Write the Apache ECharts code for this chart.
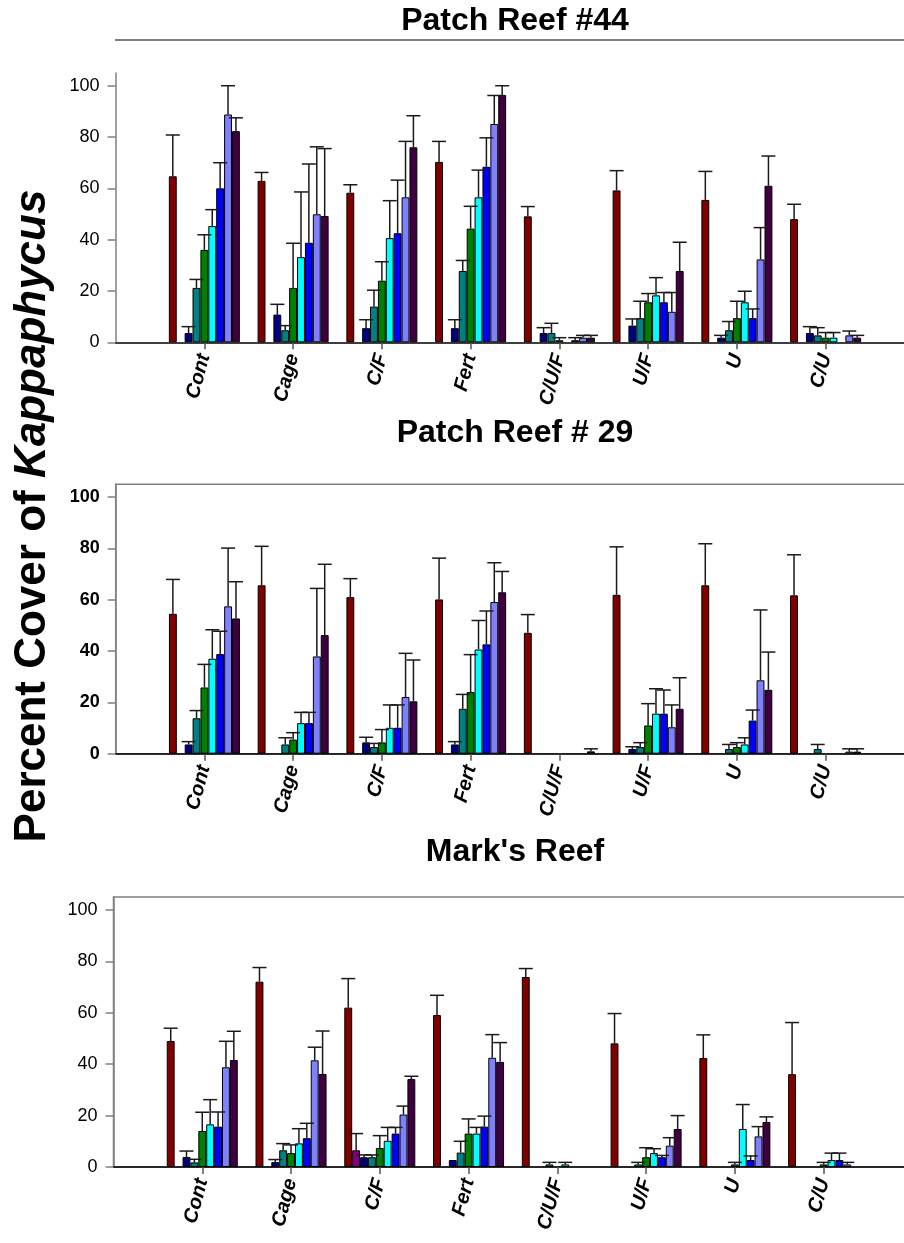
<!DOCTYPE html>
<html><head><meta charset="utf-8">
<script src="https://cdn.jsdelivr.net/npm/echarts@6/dist/echarts.min.js"></script>
<style>html,body{margin:0;padding:0;background:#fff}#c{width:904px;height:1243px}</style>
</head><body><div id="c"></div>
<script>
// ---------- data ----------
const categories = ['Cont', 'Cage', 'C/F', 'Fert', 'C/U/F', 'U/F', 'U', 'C/U'];
const seriesNames = ['S1', 'S2', 'S3', 'S4', 'S5', 'S6', 'S7', 'S8', 'S9'];
const seriesColors = ['#800000', '#800080', '#000080', '#008080', '#008000', '#00FFFF', '#0000FF', '#8080FF', '#400040'];
const panelTitles = ['Patch Reef #44', 'Patch Reef # 29', "Mark's Reef"];
const yTicks = [0, 20, 40, 60, 80, 100];

// Patch Reef #44 : mean per series (rows) x category (cols)
const reef44Mean = [
  [64.7, 62.9, 58.3, 70.3, 49.1, 59.2, 55.5, 48.0],
  [null, null, null, null, null, null, null, null],
  [3.6, 10.8, 5.5, 5.5, 3.6, 6.5, 1.8, 3.6],
  [21.2, 4.7, 13.9, 27.8, 3.6, 9.4, 4.7, 2.7],
  [36.0, 21.2, 24.0, 44.3, 0.8, 15.6, 9.4, 1.8],
  [45.3, 33.2, 40.6, 56.5, null, 18.3, 15.6, 1.8],
  [60.0, 38.8, 42.5, 68.4, 0.8, 15.6, 9.4, null],
  [88.8, 49.9, 56.5, 85.1, 1.8, 11.9, 32.3, 2.7],
  [82.3, 49.2, 76.0, 96.4, 1.8, 27.8, 61.0, 1.8]
];
// upper end of error bar
const reef44Upper = [
  [80.8, 66.2, 61.4, 78.3, 52.9, 66.9, 66.6, 53.8],
  [null, null, null, null, null, null, null, null],
  [6.1, 14.8, 8.8, 8.8, 5.7, 9.1, 2.7, 6.1],
  [24.5, 6.5, 20.3, 31.9, 7.4, 16.0, 8.1, 5.7],
  [41.9, 38.6, 31.4, 53.0, 1.8, 19.0, 16.0, 3.8],
  [51.7, 58.6, 55.2, 67.1, null, 25.2, 19.9, 3.8],
  [70.0, 69.5, 63.2, 79.7, 1.8, 19.4, 13.0, null],
  [100, 76.2, 78.3, 96.2, 2.7, 19.4, 44.7, 4.4],
  [87.5, 75.5, 88.3, 100, 2.7, 39.0, 72.6, 2.7]
];

// Patch Reef # 29
const reef29Mean = [
  [54.5, 65.6, 61.0, 60.1, 47.1, 61.9, 65.6, 61.7],
  [null, null, null, null, null, null, null, null],
  [3.6, null, 4.4, 3.6, null, 1.8, null, null],
  [13.8, 3.6, 2.6, 17.5, null, 2.6, 1.8, 1.8],
  [25.8, 5.5, 4.4, 24.0, null, 11.0, 2.6, null],
  [37.0, 11.9, 10.1, 40.6, null, 15.6, 3.6, null],
  [38.8, 11.9, 10.1, 42.6, null, 15.6, 12.9, null],
  [57.4, 37.9, 22.1, 59.1, null, 10.3, 28.6, 0.8],
  [52.7, 46.2, 20.4, 62.9, 0.9, 17.5, 24.9, 0.8]
];
const reef29Upper = [
  [67.9, 80.8, 68.2, 76.2, 54.2, 80.6, 81.8, 77.5],
  [null, null, null, null, null, null, null, null],
  [4.7, null, 6.4, 4.7, null, 2.7, null, null],
  [16.8, 6.2, 4.0, 23.1, null, 4.3, 3.6, 3.6],
  [34.8, 8.2, 9.4, 38.6, null, 19.5, 4.3, null],
  [48.3, 16.1, 19.0, 51.9, null, 25.3, 6.2, null],
  [47.7, 16.1, 19.0, 55.6, null, 24.8, 17.0, null],
  [80.1, 64.4, 39.1, 74.4, null, 19.0, 56.0, 1.9],
  [67.0, 73.8, 36.5, 71.0, 1.9, 29.6, 39.6, 1.9]
];

// Mark's Reef
const markMean = [
  [49.0, 72.1, 62.0, 59.1, 73.9, 48.1, 42.4, 36.1],
  [null, null, 6.5, null, null, null, null, null],
  [3.9, 1.9, 3.8, 2.7, null, null, null, null],
  [1.8, 6.5, 3.8, 5.6, 1.0, 1.0, null, null],
  [14.0, 5.4, 7.4, 13.0, null, 3.8, 1.0, 1.0],
  [16.6, 9.2, 10.2, 13.0, 1.0, 5.4, 14.8, 2.7],
  [15.7, 11.2, 13.0, 15.7, null, 3.8, 2.7, 2.7],
  [38.8, 41.5, 20.4, 42.5, null, 8.3, 11.9, 1.0],
  [41.6, 36.2, 34.2, 40.9, null, 14.8, 17.5, null]
];
const markUpper = [
  [54.0, 77.6, 73.3, 66.8, 77.2, 59.7, 51.4, 56.2],
  [null, null, 13.0, null, null, null, null, null],
  [6.2, 2.9, 4.7, null, null, null, null, null],
  [3.0, 9.1, 4.7, 10.0, 1.8, 1.8, null, null],
  [21.3, 8.6, 12.2, 18.7, null, 7.5, 1.8, 1.8],
  [26.2, 14.9, 15.4, 15.4, 1.8, 7.1, 24.3, 5.4],
  [21.4, 17.0, 15.4, 19.8, null, 4.5, 4.3, 5.4],
  [48.9, 46.6, 23.7, 51.5, null, 11.4, 15.7, 1.8],
  [52.8, 52.9, 35.3, 48.4, null, 20.0, 19.5, null]
];

// ---------- chart ----------
const panelMeans = [reef44Mean, reef29Mean, markMean];
const panelUppers = [reef44Upper, reef29Upper, markUpper];
const gridDefs = [
  { left: 115.6, top: 72.9, height: 269.4, right: -10.4 },
  { left: 115.7, top: 484.2, height: 269.5, right: -10.3 },
  { left: 113.5, top: 897.1, height: 269.9, right: -8.4 }
];
const FONT = 'Liberation Sans, Arial, sans-serif';
const axisCats = [''].concat(categories, ['']);

const grids = [], xAxes = [], yAxes = [], series = [];
gridDefs.forEach((g, p) => {
  grids.push(Object.assign({
    show: p > 0, borderColor: '#808080', borderWidth: 1.5,
    containLabel: false, outerBoundsMode: 'none'
  }, g));
  xAxes.push({
    type: 'category', gridIndex: p, data: axisCats, boundaryGap: false,
    axisLine: { show: true, lineStyle: { color: '#000', width: 1.5 } },
    axisTick: { show: true, length: 7, interval: (i, v) => v !== '', lineStyle: { color: '#555', width: 1.5 } },
    axisLabel: { interval: 0, rotate: 75, fontSize: 20, fontWeight: 'bold', fontStyle: 'italic',
      color: '#000', margin: 12, fontFamily: FONT },
    splitLine: { show: false }
  });
  yAxes.push({
    type: 'value', gridIndex: p, min: 0, max: 105, interval: 20,
    axisLine: { show: true, lineStyle: { color: '#808080', width: 1.5 } },
    axisTick: { show: true, length: 8, customValues: yTicks, lineStyle: { color: '#808080', width: 1.5 } },
    axisLabel: { customValues: yTicks, fontSize: 18, fontWeight: p === 1 ? 'bold' : 'normal',
      color: '#000', margin: 16, fontFamily: FONT },
    splitLine: { show: false }
  });
  const means = panelMeans[p], uppers = panelUppers[p];
  seriesNames.forEach((name, s) => {
    series.push({
      name: name, type: 'bar', xAxisIndex: p, yAxisIndex: p,
      data: [null].concat(means[s], [null]),
      barGap: 0, barCategoryGap: '20%',
      itemStyle: { color: seriesColors[s], borderColor: '#000', borderWidth: 1 },
      silent: true, z: 2
    });
  });
  seriesNames.forEach((name, s) => {
    const data = [];
    means[s].forEach((m, i) => {
      const u = uppers[s][i];
      if (m != null && u != null && u > m) data.push([i + 1, u, m]);
    });
    series.push({
      type: 'custom', xAxisIndex: p, yAxisIndex: p, data: data, z: 5, silent: true,
      renderItem: (params, api) => {
        const ci = api.value(0);
        const base = api.coord([ci, 0]);
        const bw = api.size([1, 0])[0];
        const barW = bw * 0.8 / 9;
        const cx = base[0] - bw * 0.4 + (s + 0.5) * barW;
        const yTop = api.coord([ci, api.value(1)])[1];
        const yBar = api.coord([ci, api.value(2)])[1];
        const st = { stroke: '#1a1a1a', lineWidth: 1.5 };
        return { type: 'group', children: [
          { type: 'line', shape: { x1: cx, y1: yBar, x2: cx, y2: yTop }, style: st },
          { type: 'line', shape: { x1: cx - 7, y1: yTop, x2: cx + 7, y2: yTop }, style: st }
        ] };
      }
    });
  });
});

const titleY = [21, 433, 852];
const graphics = panelTitles.map((t, i) => ({
  type: 'text', x: 515, y: titleY[i], silent: true,
  style: { text: t, fontSize: 32, fontWeight: 'bold', fontFamily: FONT, fill: '#000',
    align: 'center', verticalAlign: 'middle' }
}));
graphics.push({
  type: 'line', silent: true,
  shape: { x1: 115, y1: 40, x2: 904, y2: 40 },
  style: { stroke: '#808080', lineWidth: 2 }
});
graphics.push({
  type: 'text', x: 33, y: 516, rotation: Math.PI / 2, silent: true,
  style: {
    text: '{n|Percent Cover of }{i|Kappaphycus}',
    align: 'center', verticalAlign: 'middle',
    rich: {
      n: { fontSize: 44, fontWeight: 'bold', fontFamily: FONT, fill: '#000' },
      i: { fontSize: 44, fontWeight: 'bold', fontStyle: 'italic', fontFamily: FONT, fill: '#000' }
    }
  }
});

const chart = echarts.init(document.getElementById('c'), null, { renderer: 'canvas' });
chart.setOption({
  animation: false,
  backgroundColor: '#fff',
  grid: grids, xAxis: xAxes, yAxis: yAxes, series: series,
  graphic: graphics
});
</script></body></html>
